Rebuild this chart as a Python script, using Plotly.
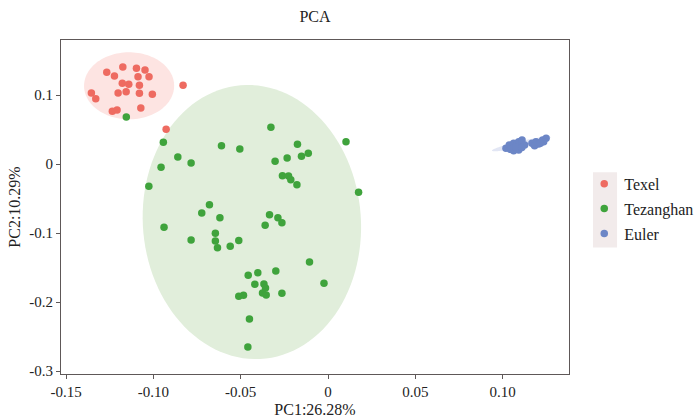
import numpy as np
import plotly.graph_objects as go

groups = ["Texel", "Tezanghan", "Euler"]
colors = ["#EE6B61", "#3FA33C", "#6C86C6"]
fills = ["#FDE4E2", "#E1EEDB", "#E2E6F4"]

texel_x = [-0.1267, -0.1223, -0.1175, -0.1097, -0.1048, -0.1088, -0.1025, -0.1178, -0.1141, -0.1080,
           -0.1156, -0.1202, -0.1080, -0.1006, -0.1355, -0.1330, -0.1072, -0.1235, -0.1208, -0.0830, -0.0927]
texel_y = [0.1329, 0.1275, 0.1406, 0.1387, 0.1362, 0.1265, 0.1265, 0.1170, 0.1155, 0.1141,
           0.1048, 0.1029, 0.1025, 0.1010, 0.1029, 0.0946, 0.0812, 0.0764, 0.0783, 0.1141, 0.0503]

tez_x = [-0.1155, -0.0327, -0.0943, -0.0610, -0.0505, -0.0175, 0.0103, -0.0860, -0.0784, -0.0303,
         -0.0234, -0.0152, -0.0113, -0.0956, -0.1026, -0.0261, -0.0226, -0.0213, -0.0178, 0.0175,
         -0.0679, -0.0723, -0.0619, -0.0335, -0.0287, -0.0264, -0.0360, -0.0939, -0.0645, -0.0784,
         -0.0645, -0.0511, -0.0633, -0.0560, -0.0106, -0.0023, -0.0457, -0.0402, -0.0299, -0.0419,
         -0.0367, -0.0358, -0.0375, -0.0354, -0.0264, -0.0511, -0.0484, -0.0450, -0.0459]
tez_y = [0.0681, 0.0532, 0.0314, 0.0265, 0.0217, 0.0286, 0.0323, 0.0101, 0.0014, 0.0039,
         0.0087, 0.0112, 0.0155, -0.0048, -0.0323, -0.0170, -0.0174, -0.0228, -0.0300, -0.0410,
         -0.0590, -0.0710, -0.0778, -0.0735, -0.0778, -0.0851, -0.0888, -0.0917, -0.1004, -0.1101,
         -0.1116, -0.1109, -0.1213, -0.1193, -0.1420, -0.1729, -0.1613, -0.1575, -0.1551, -0.1743,
         -0.1739, -0.1797, -0.1870, -0.1899, -0.1874, -0.1917, -0.1903, -0.2246, -0.2652]

euler_x = [0.1019, 0.1038, 0.1063, 0.1083, 0.1092, 0.1111, 0.1126, 0.1063, 0.1092, 0.1044,
           0.1168, 0.1191, 0.1206, 0.1229, 0.1249, 0.1235, 0.1183, 0.1216, 0.1075, 0.1110]
euler_y = [0.0228, 0.0275, 0.0300, 0.0275, 0.0323, 0.0348, 0.0275, 0.0193, 0.0203, 0.0213,
           0.0300, 0.0323, 0.0290, 0.0348, 0.0372, 0.0323, 0.0265, 0.0300, 0.0245, 0.0240]

# confidence ellipses: centre, first semi-axis vector, second semi-axis vector
ell_cx = [-0.1139, -0.0436, 0.1107]
ell_cy = [0.1133, -0.0841, 0.0290]
ell_ax = [0.0258, 0.0625, 0.0168]
ell_ay = [0.0, 0.0, 0.0097]
ell_bx = [0.0, -0.0023, 0.0004]
ell_by = [0.0486, 0.1986, -0.0042]

xs = [texel_x, tez_x, euler_x]
ys = [texel_y, tez_y, euler_y]

FONT = "Liberation Serif"
fig = go.Figure()

t = np.linspace(0, 2 * np.pi, 120)
shapes = []
for i in range(3):
    px = ell_cx[i] + ell_ax[i] * np.cos(t) + ell_bx[i] * np.sin(t)
    py = ell_cy[i] + ell_ay[i] * np.cos(t) + ell_by[i] * np.sin(t)
    path = "M " + " L ".join(f"{a:.5f},{b:.5f}" for a, b in zip(px, py)) + " Z"
    shapes.append(dict(type="path", path=path, xref="x", yref="y", fillcolor=fills[i],
                       line=dict(width=0), layer="below"))

for i in range(3):
    fig.add_trace(go.Scatter(x=xs[i], y=ys[i], mode="markers", name=groups[i],
                             legendgroup=groups[i],
                             marker=dict(color=colors[i], size=7.5, line=dict(width=0))))

# legend key background
shapes.append(dict(type="rect", xref="paper", yref="paper", x0=1.0473, x1=1.0946, y0=0.379, y1=0.604,
                   fillcolor="#F2EBEB", line=dict(width=0), layer="below"))

axis_common = dict(showgrid=False, zeroline=False, showline=True, mirror=True,
                   linecolor="#5E5858", linewidth=1, ticks="outside", ticklen=4,
                   tickcolor="#5E5858", tickwidth=1, automargin=False,
                   tickfont=dict(family=FONT, size=15, color="#222"))

fig.update_layout(
    width=700, height=419,
    margin=dict(l=61, r=131, t=40, b=45, autoexpand=False),
    paper_bgcolor="white", plot_bgcolor="white",
    title=dict(text="PCA", x=0.45, xanchor="center", y=0.96, yanchor="middle",
               font=dict(family=FONT, size=16, color="#222")),
    xaxis=dict(range=[-0.1529, 0.1380], tickvals=[-0.15, -0.10, -0.05, 0, 0.05, 0.10],
               ticktext=["-0.15", "-0.10", "-0.05", "0", "0.05", "0.10"],
               title=dict(text="PC1:26.28%", font=dict(family=FONT, size=16, color="#222"), standoff=4),
               **axis_common),
    yaxis=dict(range=[-0.3043, 0.1797], tickvals=[0.1, 0, -0.1, -0.2, -0.3],
               ticktext=["0.1", "0", "-0.1", "-0.2", "-0.3"],
               title=dict(text="PC2:10.29%", font=dict(family=FONT, size=16, color="#222"), standoff=4),
               **axis_common),
    legend=dict(x=1.030, y=0.62, xanchor="left", yanchor="top", bgcolor="rgba(0,0,0,0)",
                font=dict(family=FONT, size=16, color="#222"), tracegroupgap=1),
    shapes=shapes,
)

fig.write_html("out.html", config={"displayModeBar": False},
               post_script="document.body.style.margin='0px';document.body.style.overflow='hidden';")
